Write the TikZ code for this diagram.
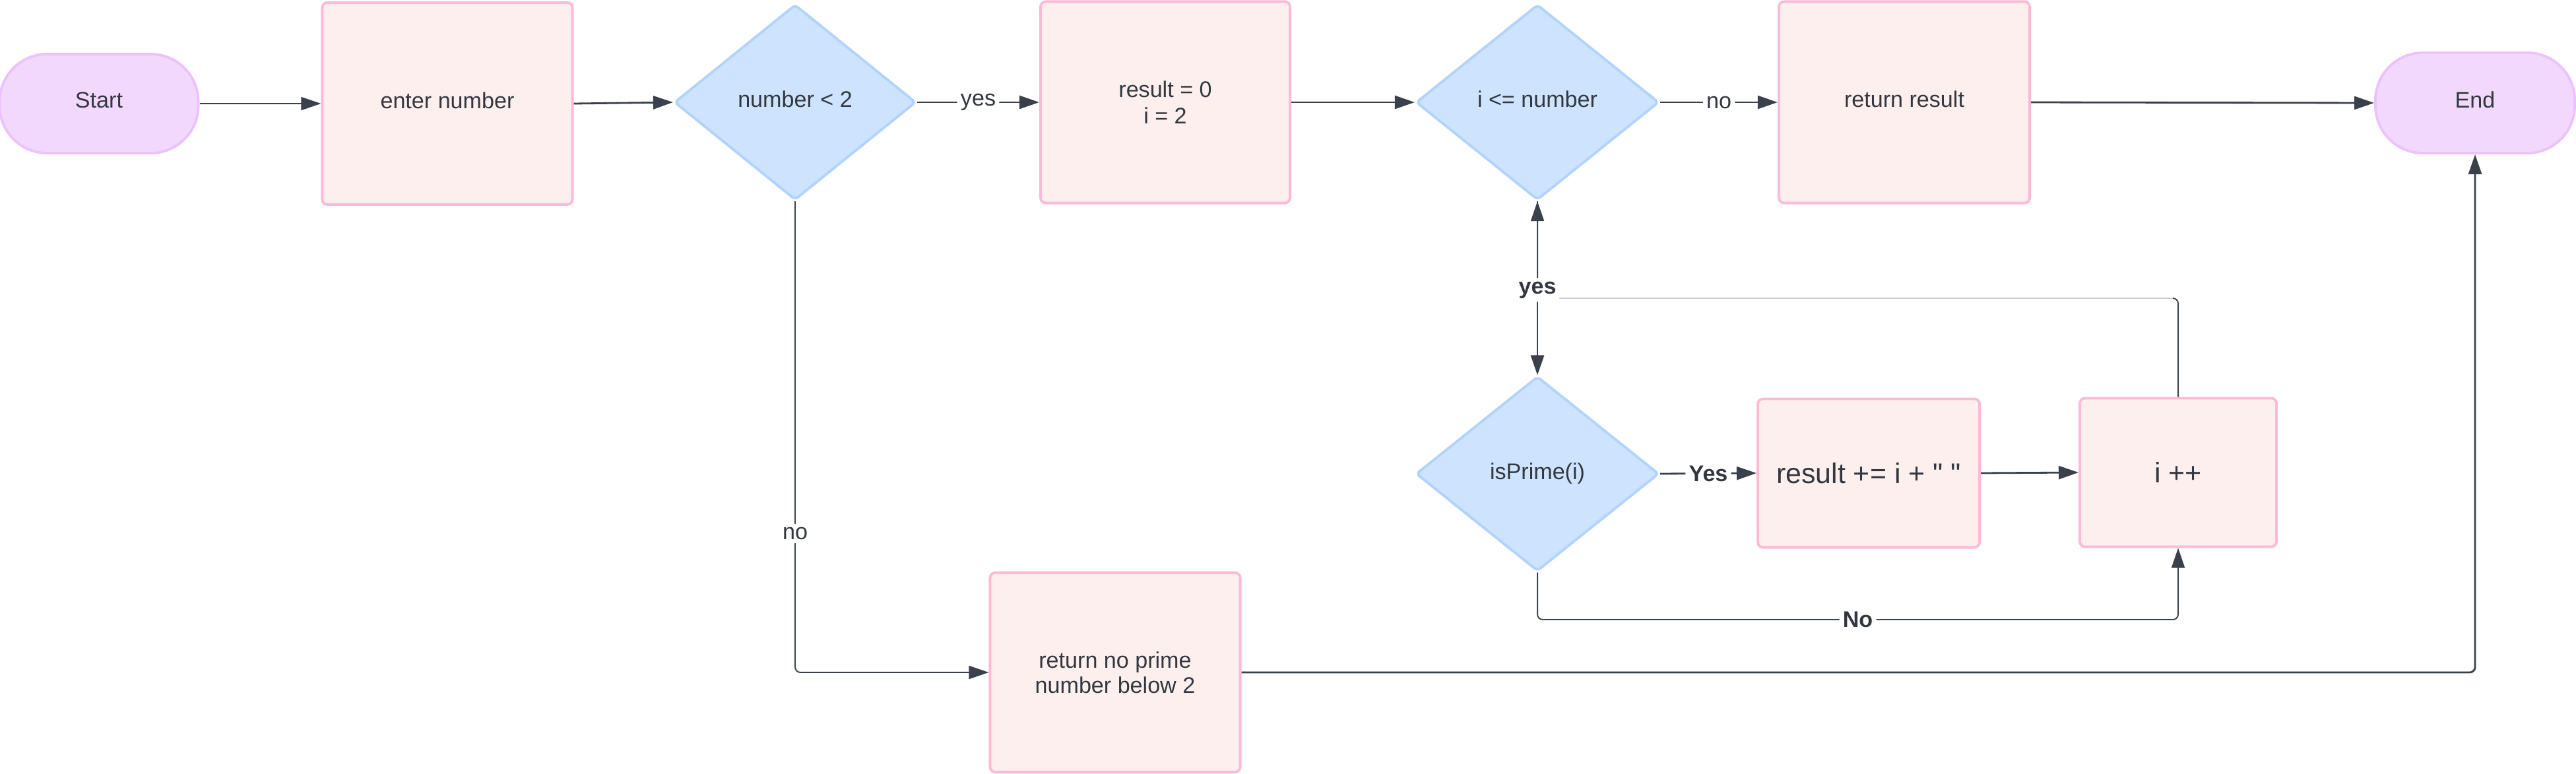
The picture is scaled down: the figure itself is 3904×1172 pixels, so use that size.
\documentclass[tikz,border=0pt]{standalone}
\usepackage{fontspec}
\setmainfont{Liberation Sans}[Ligatures=TeXOff]
\usetikzlibrary{shapes.geometric,arrows.meta}
\definecolor{linec}{HTML}{3A414A}
\definecolor{lightc}{HTML}{C9CDD2}
\definecolor{txtc}{HTML}{333840}
\definecolor{boxfill}{HTML}{FEEFEF}
\definecolor{boxdraw}{HTML}{FDBAD7}
\definecolor{dfill}{HTML}{CEE3FD}
\definecolor{ddraw}{HTML}{B1D3FD}
\definecolor{tfill}{HTML}{F2D8FD}
\definecolor{tdraw}{HTML}{EBC2FB}
\tikzset{
  basefont/.style={font=\fontsize{9.7}{11.5}\selectfont},
  procbox/.style={draw=boxdraw, fill=boxfill, line width=1.1pt, rounded corners=0.08cm,
    inner sep=0pt, align=center, text=txtc, basefont},
  term/.style={draw=tdraw, fill=tfill, line width=1.1pt, rounded corners=0.72cm,
    inner sep=0pt, align=center, text=txtc, basefont},
  decision/.style={diamond, draw=ddraw, fill=dfill, line width=1.1pt, rounded corners=0.06cm,
    inner sep=0pt, align=center, text=txtc, basefont},
  raised/.style={text depth=0.1cm},
  conn/.style={draw=linec, line width=0.8pt, -{Triangle[length=0.3cm,width=0.2cm]},
    rounded corners=0.08cm},
  thinconn/.style={conn, line width=0.55pt},
  lbl/.style={fill=white, inner sep=1.5pt, text=txtc, basefont},
  blbl/.style={lbl, font=\fontsize{9.7}{11.5}\selectfont\bfseries}
}
\begin{document}
\begin{tikzpicture}[x=0.01cm,y=-0.01cm]
\useasboundingbox (0,0) rectangle (3904,1172);
% nodes
\node[term, raised, minimum width=3.01cm, minimum height=1.5cm] (start) at (150,157) {Start};
\node[procbox, raised, minimum width=3.79cm, minimum height=3.06cm] (enter) at (678,157) {enter number};
\node[decision, raised, minimum width=3.66cm, minimum height=2.96cm] (d1) at (1205,155) {number < 2};
\node[procbox, minimum width=3.78cm, minimum height=3.05cm] (init) at (1766,155) {result = 0\\i = 2};
\node[decision, raised, minimum width=3.68cm, minimum height=2.96cm] (d2) at (2330,155) {i <= number};
\node[procbox, raised, minimum width=3.80cm, minimum height=3.05cm] (ret) at (2886,155) {return result};
\node[term, raised, minimum width=3.02cm, minimum height=1.52cm] (end) at (3751,156) {End};
\node[decision, minimum width=3.68cm, minimum height=2.95cm] (isp) at (2330,718) {isPrime(i)};
\node[procbox, minimum width=3.36cm, minimum height=2.25cm, font=\fontsize{12.2}{14}\selectfont] (acc) at (2832,717) {result += i + " "};
\node[procbox, minimum width=2.98cm, minimum height=2.25cm, font=\fontsize{12.2}{14}\selectfont] (inc) at (3301,716) {i ++};
\node[procbox, minimum width=3.79cm, minimum height=3.02cm, font=\fontsize{9.7}{10.9}\selectfont] (nop) at (1690,1019) {return no prime\\number below 2};
% helper coordinates
\coordinate (c1) at (1205,1019);
\coordinate (c2) at (3751,1019);
\coordinate (c3) at (3301,452);
\coordinate (c4) at (2330,452);
\coordinate (c5) at (2330,939);
\coordinate (c6) at (3301,939);
% connectors
\draw[thinconn] (start.east) -- (enter.west);
\draw[conn] (enter.east) -- (d1.west);
\draw[conn] (d1.east) -- node[lbl] {yes} (init.west);
\draw[conn] (init.east) -- (d2.west);
\draw[conn] (d2.east) -- node[lbl] {no} (ret.west);
\draw[conn] (ret.east) -- (end.west);
\draw[thinconn] (d1.south) -- node[lbl, pos=0.705] {no} (c1) -- (nop.west);
\draw[conn] (nop.east) -- (c2) -- (end.south);
\draw[thinconn] (inc.north) -- (c3) -- (c4) -- (d2.south);
\draw[draw=lightc, line width=0.6pt] (c3) ++(-8,0) -- (c4);
\draw[conn] (d2.south) -- node[blbl, pos=0.51] {yes} (isp.north);
\draw[conn] (isp.east) -- node[blbl] {Yes} (acc.west);
\draw[conn] (acc.east) -- (inc.west);
\draw[thinconn] (isp.south) -- (c5) -- node[blbl] {No} (c6) -- (inc.south);
\end{tikzpicture}
\end{document}
